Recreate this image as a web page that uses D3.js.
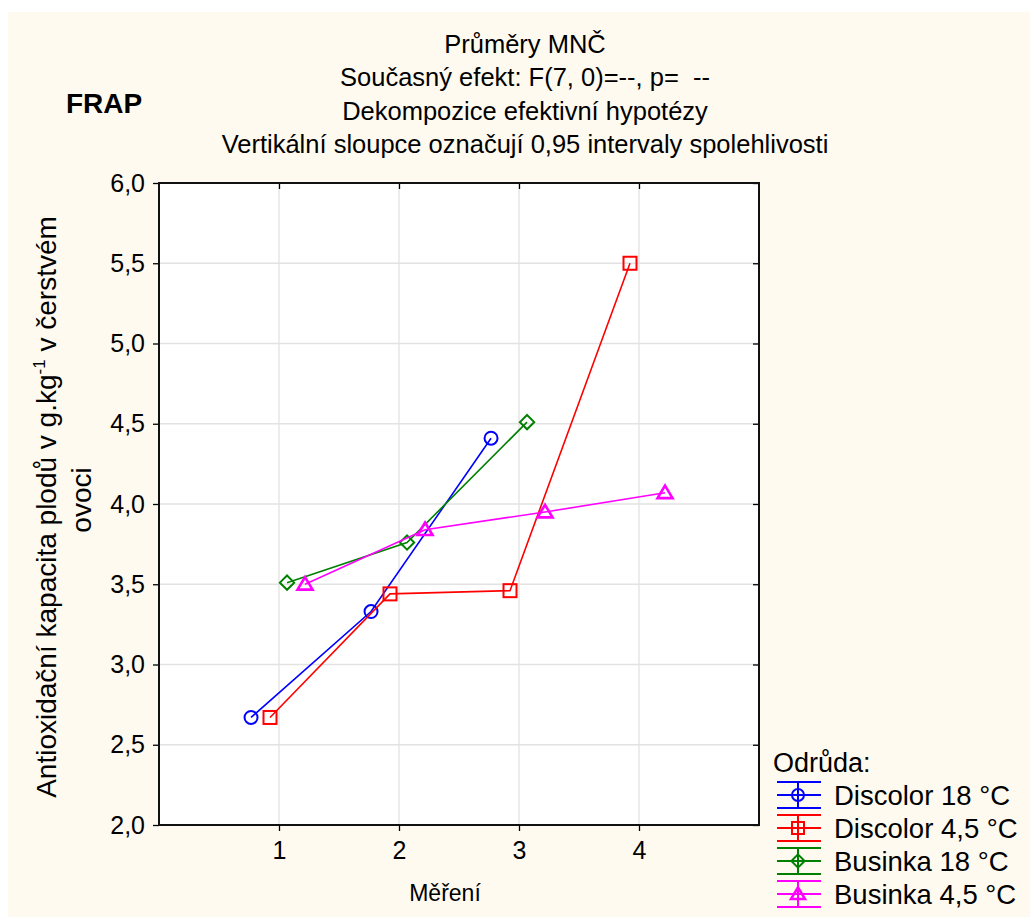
<!DOCTYPE html>
<html>
 <head>
  <meta charset="utf-8">
  <title>FRAP</title>
  <style>
  body {
   margin: 0;
   background: #ffffff;
  }
  svg {
   display: block;
   font-family: "Liberation Sans", Arial, sans-serif;
  }
  </style>
 </head>
 <body>
  <script src="https://cdnjs.cloudflare.com/ajax/libs/d3/7.8.5/d3.min.js"></script>
  <script>
   // data
   const seriesNames = ["Discolor 18 °C", "Discolor 4,5 °C", "Businka 18 °C", "Businka 4,5 °C"];
   const discolor18 = [2.67, 3.33, 4.41];
   const discolor45 = [2.67, 3.44, 3.46, 5.50];
   const businka18 = [3.51, 3.76, 4.51];
   const businka45 = [3.50, 3.84, 3.95, 4.07];
   const xTicks = [1, 2, 3, 4];
   const yTicks = [2.0, 2.5, 3.0, 3.5, 4.0, 4.5, 5.0, 5.5, 6.0];
   const titleLines = [
    "Průměry MNČ",
    "Současný efekt: F(7, 0)=--, p=  --",
    "Dekompozice efektivní hypotézy",
    "Vertikální sloupce označují 0,95 intervaly spolehlivosti"
   ];

   const w = 1030;
   const h = 917;
   const plot = {left: 159, top: 183, right: 759, bottom: 825};

   const colors = ["#0000ff", "#ff0000", "#008000", "#ff00ff"];
   const dodge = [-0.233, -0.075, 0.067, 0.217];
   const shapes = ["circle", "square", "diamond", "triangle"];

   const xScale = d3.scaleLinear().domain([0, 5]).range([plot.left, plot.right]);
   const yScale = d3.scaleLinear().domain([2, 6]).range([plot.bottom, plot.top]);

   const svg = d3.select("body")
                 .append("svg")
                 .attr("width", w)
                 .attr("height", h);

   svg.append("rect")
      .attr("x", 8).attr("y", 12)
      .attr("width", w - 8).attr("height", h - 12)
      .attr("fill", "#fffaf0");

   svg.append("rect")
      .attr("x", plot.left).attr("y", plot.top)
      .attr("width", plot.right - plot.left)
      .attr("height", plot.bottom - plot.top)
      .attr("fill", "#ffffff");

   // grid
   svg.append("g")
      .selectAll("line")
      .data(xTicks)
      .enter()
      .append("line")
      .attr("x1", d => xScale(d)).attr("x2", d => xScale(d))
      .attr("y1", plot.top).attr("y2", plot.bottom)
      .attr("stroke", "#e2e2e2").attr("stroke-width", 1.3);
   svg.append("g")
      .selectAll("line")
      .data(yTicks.slice(1, -1))
      .enter()
      .append("line")
      .attr("x1", plot.left).attr("x2", plot.right)
      .attr("y1", d => yScale(d)).attr("y2", d => yScale(d))
      .attr("stroke", "#e2e2e2").attr("stroke-width", 1.3);

   const fmt = d => d3.format(".1f")(d).replace(".", ",");

   const xAxis = d3.axisBottom(xScale).tickValues(xTicks).tickFormat(d3.format("d")).tickSize(6).tickSizeOuter(0).tickPadding(10);
   const yAxis = d3.axisLeft(yScale).tickValues(yTicks).tickFormat(fmt).tickSize(6).tickSizeOuter(0).tickPadding(8);

   const gx = svg.append("g")
      .attr("transform", "translate(0," + plot.bottom + ")")
      .call(xAxis);
   const gy = svg.append("g")
      .attr("transform", "translate(" + plot.left + ",0)")
      .call(yAxis);
   svg.append("g")
      .attr("transform", "translate(0," + plot.top + ")")
      .call(d3.axisBottom(xScale).tickValues(xTicks).tickSize(6).tickSizeOuter(0).tickFormat(""));
   svg.append("g")
      .attr("transform", "translate(" + plot.right + ",0)")
      .call(d3.axisLeft(yScale).tickValues(yTicks).tickSize(6).tickSizeOuter(0).tickFormat(""));

   svg.selectAll(".domain").remove();
   svg.selectAll(".tick line").attr("stroke", "#000").attr("stroke-width", 1.3);
   gx.selectAll("text").attr("font-size", 25).attr("fill", "#000").attr("font-family", "Liberation Sans, Arial");
   gy.selectAll("text").attr("font-size", 25).attr("fill", "#000").attr("font-family", "Liberation Sans, Arial");

   svg.append("rect")
      .attr("x", plot.left).attr("y", plot.top)
      .attr("width", plot.right - plot.left)
      .attr("height", plot.bottom - plot.top)
      .attr("fill", "none")
      .attr("stroke", "#111").attr("stroke-width", 2);

   function marker(g, shape, color, size) {
    if (shape === "circle") {
     g.append("circle").attr("r", size * 0.5).attr("fill", "none").attr("stroke", color).attr("stroke-width", 2);
    } else if (shape === "square") {
     g.append("rect").attr("x", -size * 0.5).attr("y", -size * 0.5)
      .attr("width", size).attr("height", size)
      .attr("fill", "none").attr("stroke", color).attr("stroke-width", 2);
    } else if (shape === "diamond") {
     const s = size * 0.55;
     g.append("path").attr("d", "M0," + (-s) + "L" + s + ",0L0," + s + "L" + (-s) + ",0Z")
      .attr("fill", "none").attr("stroke", color).attr("stroke-width", 2);
    } else {
     const s = size * 0.55;
     g.append("path").attr("d", "M0," + (-s) + "L" + (s * 1.05) + "," + (s * 0.75) + "L" + (-s * 1.05) + "," + (s * 0.75) + "Z")
      .attr("fill", "none").attr("stroke", color).attr("stroke-width", 2.6);
    }
   }

   const allSeries = [discolor18, discolor45, businka18, businka45];
   const line = d3.line().x(d => d.x).y(d => d.y);

   allSeries.forEach((vals, i) => {
    const pts = vals.map((v, j) => ({x: xScale(xTicks[j] + dodge[i]), y: yScale(v)}));
    svg.append("path")
       .attr("d", line(pts))
       .attr("fill", "none")
       .attr("stroke", colors[i])
       .attr("stroke-width", 1.6);
    pts.forEach(p => {
     const g = svg.append("g").attr("transform", "translate(" + p.x + "," + p.y + ")");
     marker(g, shapes[i], colors[i], 13);
    });
   });

   // titles
   svg.append("g")
      .selectAll("text")
      .data(titleLines)
      .enter()
      .append("text")
      .attr("x", 525)
      .attr("y", (d, i) => 53 + i * 33.3)
      .attr("text-anchor", "middle")
      .attr("font-size", 25.5)
      .style("white-space", "pre")
      .text(d => d);

   svg.append("text")
      .attr("x", 66).attr("y", 113)
      .attr("font-size", 28).attr("font-weight", "bold")
      .text("FRAP");

   svg.append("text")
      .attr("x", 445).attr("y", 901)
      .attr("text-anchor", "middle")
      .attr("font-size", 23)
      .text("Měření");

   const yt = svg.append("text")
      .attr("transform", "translate(56,507) rotate(-90)")
      .attr("text-anchor", "middle")
      .attr("font-size", 28);
   yt.append("tspan").attr("x", 0).attr("y", 0).text("Antioxidační kapacita plodů v g.kg");
   yt.append("tspan").attr("dy", -11).attr("font-size", 17).text("-1");
   yt.append("tspan").attr("dy", 11).text(" v čerstvém");
   svg.append("text")
      .attr("transform", "translate(91,500) rotate(-90)")
      .attr("text-anchor", "middle")
      .attr("font-size", 28)
      .text("ovoci");

   // legend
   svg.append("text")
      .attr("x", 773).attr("y", 772)
      .attr("font-size", 27)
      .text("Odrůda:");
   seriesNames.forEach((name, i) => {
    const cy = 795 + i * 33;
    const g = svg.append("g").attr("transform", "translate(798," + cy + ")");
    [-13, 0, 13].forEach(dy => {
     g.append("line").attr("x1", -21).attr("x2", 23).attr("y1", dy).attr("y2", dy)
      .attr("stroke", colors[i]).attr("stroke-width", 2);
    });
    g.append("line").attr("x1", 0).attr("x2", 0).attr("y1", -13).attr("y2", 13)
     .attr("stroke", colors[i]).attr("stroke-width", 2);
    marker(g, shapes[i], colors[i], 12);
    svg.append("text")
       .attr("x", 834).attr("y", cy + 10)
       .attr("font-size", 27.5)
       .text(name);
   });
  </script>
 </body>
</html>
